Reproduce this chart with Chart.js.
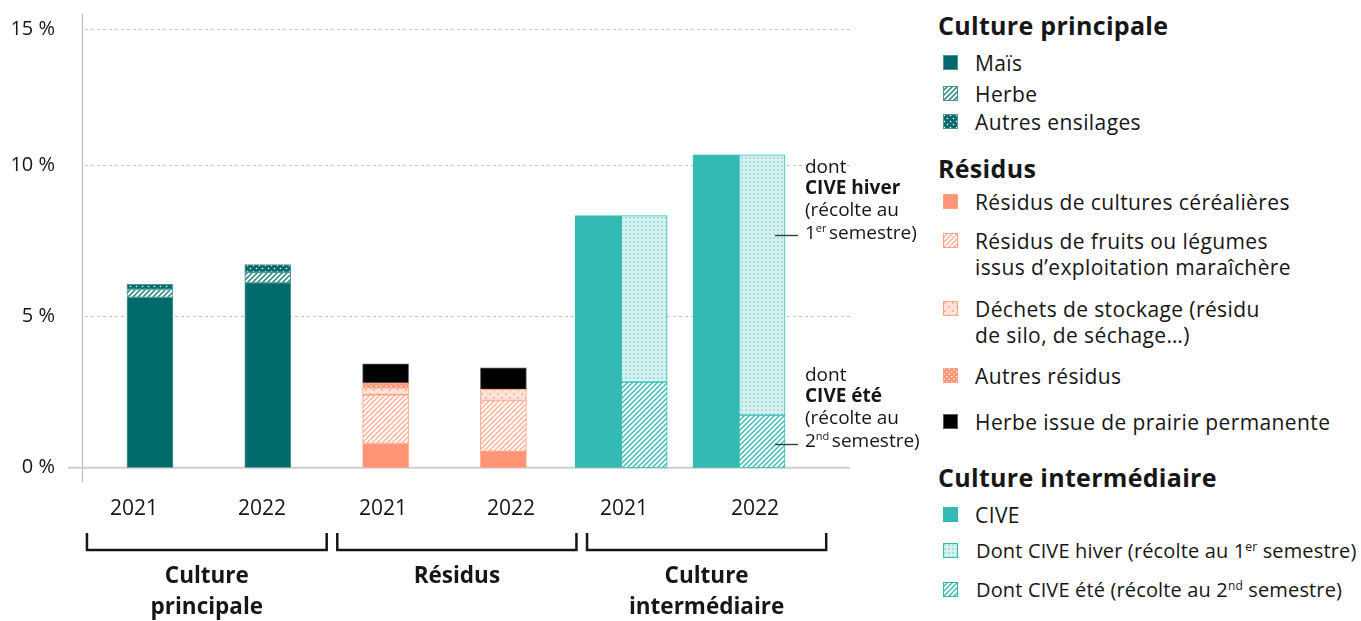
<!DOCTYPE html>
<html><head><meta charset="utf-8">
<script src="https://cdn.jsdelivr.net/npm/chart.js@4.4.0/dist/chart.umd.min.js"></script>
<style>
html,body{margin:0;padding:0;background:#fff;}
body{width:1361px;height:621px;position:relative;overflow:hidden;font-family:"Open Sans",sans-serif;color:#161616;}
#c{position:absolute;left:0;top:0;}
.lh{position:absolute;left:938px;font-weight:700;font-size:25px;letter-spacing:0.3px;line-height:30px;white-space:nowrap;}
.li{position:absolute;left:975px;font-size:21px;letter-spacing:0.4px;line-height:26px;white-space:nowrap;}
.sw{position:absolute;left:943px;width:15px;height:15px;}
sup{font-size:0.6em;vertical-align:0.6em;line-height:0;}
</style></head>
<body>
<canvas id="c" width="930" height="621"></canvas>
<div id="legend"></div>
<script>
// ---------- data ----------
const years = ['2021','2022','2021','2022','2021','2022'];
const groupNames = [['Culture','principale'],['Résidus'],['Culture','intermédiaire']];
const yTickValues = [0, 5, 10, 14.5];
const yTickLabels = ['0 %', '5 %', '10 %', '15 %'];

const mais            = [5.63, 6.11, null, null, null, null];
const herbe           = [0.26, 0.35, null, null, null, null];
const autresEnsilages = [0.17, 0.25, null, null, null, null];
const cereales        = [null, null, 0.80, 0.54, null, null];
const fruitsLegumes   = [null, null, 1.61, 1.68, null, null];
const dechetsStockage = [null, null, 0.23, 0.37, null, null];
const autresResidus   = [null, null, 0.16, null, null, null];
const herbePrairie    = [null, null, 0.63, 0.71, null, null];
const cive            = [null, null, null, null, 8.33, 10.34];
const civeEte         = [null, null, null, null, 2.83, 1.74];
const civeHiver       = [null, null, null, null, 5.50, 8.60];

// layout constants (scale units) for year labels and brackets
const yearLabelPos = [-0.136, 0.951, 1.978, 3.065, 4.024, 5.136];
const brackets = [[-0.535,1.50],[1.59,3.62],[3.71,5.74]];

// ---------- patterns ----------
function tile(size, draw){const c=document.createElement('canvas');c.width=c.height=size;const g=c.getContext('2d');draw(g,size);return c;}
function hatch(fg,bg,s,lw){
  const t=tile(s,(g)=>{g.fillStyle=bg;g.fillRect(0,0,s,s);g.strokeStyle=fg;g.lineWidth=lw;g.beginPath();
    g.moveTo(-1,s+1);g.lineTo(s+1,-1);g.moveTo(-s/2-1,s/2+1);g.lineTo(s/2+1,-s/2-1);g.moveTo(s/2-1,s*1.5+1);g.lineTo(s*1.5+1,s/2-1);g.stroke();});
  return document.createElement('canvas').getContext('2d').createPattern(t,'repeat');
}
function dots(fg,bg,s,r,stagger){
  const t=tile(s,(g)=>{g.fillStyle=bg;g.fillRect(0,0,s,s);g.fillStyle=fg;
    if(stagger){g.fillRect(s/4-r/2,s/4-r/2,r,r);g.fillRect(3*s/4-r/2,3*s/4-r/2,r,r);}
    else{g.fillRect(s/2-r/2,s/2-r/2,r,r);} });
  return document.createElement('canvas').getContext('2d').createPattern(t,'repeat');
}
const TEAL='#006A6B', SALMON='#FF9575', CIVEC='#34BAB5';
const fills = {
  mais: TEAL,
  herbe: hatch('#3E8E8E','#ffffff',5,1.6),
  autresEnsilages: dots('#ffffff',TEAL,6,1.4,true),
  cereales: SALMON,
  fruitsLegumes: hatch('#FFB39B','#ffffff',5,1.5),
  dechetsStockage: dots('#FF9E82','#FFE3DA',8,1.6,true),
  autresResidus: dots('#ffffff',SALMON,5,1.3,true),
  herbePrairie: '#000000',
  cive: CIVEC,
  civeHiver: dots('#7DD0CC','#D6F1EF',4,1.5,false),
  civeEte: hatch(CIVEC,'#ffffff',5,1.4)
};
const borders = {
  mais:'#4F9797', herbe:'#4F9797', autresEnsilages:'#4F9797',
  cereales:'#FFA385', fruitsLegumes:'#FFA385', dechetsStockage:'#FFA385', autresResidus:'#FFA385',
  herbePrairie:'#5a5a5a', cive:CIVEC, civeHiver:CIVEC, civeEte:CIVEC
};

const pts = arr => arr.map((v,i)=>({x:i,y:v}));
function ds(label,key,arr,stack){
  return {label, data:pts(arr), stack, backgroundColor:fills[key], borderColor:borders[key], borderWidth:1, borderSkipped:false};
}
const datasets = [
  ds('Maïs','mais',mais,'cp'),
  ds('Herbe','herbe',herbe,'cp'),
  ds('Autres ensilages','autresEnsilages',autresEnsilages,'cp'),
  ds('Résidus de cultures céréalières','cereales',cereales,'res'),
  ds('Résidus de fruits ou légumes issus d’exploitation maraîchère','fruitsLegumes',fruitsLegumes,'res'),
  ds('Déchets de stockage (résidu de silo, de séchage…)','dechetsStockage',dechetsStockage,'res'),
  ds('Autres résidus','autresResidus',autresResidus,'res'),
  ds('Herbe issue de prairie permanente','herbePrairie',herbePrairie,'res'),
  ds('CIVE','cive',cive,'cive'),
  ds('Dont CIVE été (récolte au 2nd semestre)','civeEte',civeEte,'civeSub'),
  ds('Dont CIVE hiver (récolte au 1er semestre)','civeHiver',civeHiver,'civeSub')
];

// ---------- decorations ----------
const FONT='"Open Sans", sans-serif';
const deco = {
  id:'deco',
  beforeDatasetsDraw(chart){
    const {ctx, chartArea:a, scales:{x,y}} = chart;
    ctx.save();
    ctx.strokeStyle='#c4c4c4'; ctx.lineWidth=1; ctx.setLineDash([3,3]);
    yTickValues.slice(1).forEach(v=>{
      const py=Math.round(y.getPixelForValue(v))+0.5;
      ctx.beginPath(); ctx.moveTo(a.left+3,py); ctx.lineTo(a.right,py); ctx.stroke();
    });
    ctx.setLineDash([]);
    ctx.strokeStyle='#bdbdbd'; ctx.lineWidth=1.2;
    ctx.beginPath(); ctx.moveTo(a.left+0.5,14); ctx.lineTo(a.left+0.5,482); ctx.stroke();
    const p0=y.getPixelForValue(0);
    ctx.strokeStyle='#cfcfcf'; ctx.lineWidth=2;
    ctx.beginPath(); ctx.moveTo(68,p0); ctx.lineTo(a.right,p0); ctx.stroke();
    ctx.restore();
  },
  afterDatasetsDraw(chart){
    const {ctx, scales:{x,y}} = chart;
    ctx.save();
    ctx.strokeStyle='#161616'; ctx.lineWidth=2.5; ctx.lineCap='butt';
    brackets.forEach((b,i)=>{
      const x1=x.getPixelForValue(b[0]), x2=x.getPixelForValue(b[1]);
      ctx.beginPath(); ctx.moveTo(x1,533); ctx.lineTo(x1,550); ctx.lineTo(x2,550); ctx.lineTo(x2,533); ctx.stroke();
      ctx.fillStyle='#161616'; ctx.font='700 22.5px '+FONT; ctx.textAlign='center'; ctx.textBaseline='middle';
      groupNames[i].forEach((t,j)=>ctx.fillText(t,(x1+x2)/2,577+j*31));
    });
    const ax=805;
    ctx.textAlign='left'; ctx.textBaseline='middle'; ctx.fillStyle='#161616';
    function block(y0, boldTxt, sup){
      ctx.font='19px '+FONT; ctx.fillText('dont',ax,y0);
      ctx.font='700 19px '+FONT; ctx.fillText(boldTxt,ax,y0+21);
      ctx.font='19px '+FONT; ctx.fillText('(récolte au',ax,y0+43);
      let xx=ax; const yl=y0+66;
      ctx.fillText(sup[0],xx,yl); xx+=ctx.measureText(sup[0]).width;
      ctx.font='11px '+FONT; ctx.fillText(sup[1],xx,yl-5); xx+=ctx.measureText(sup[1]).width+2.5;
      ctx.font='19px '+FONT; ctx.fillText('semestre)',xx,yl);
    }
    block(168,'CIVE hiver',['1','er']);
    block(376,'CIVE été',['2','nd']);
    ctx.strokeStyle='#333'; ctx.lineWidth=1.3;
    [235,444].forEach(py=>{ctx.beginPath();ctx.moveTo(775,py+0.5);ctx.lineTo(798,py+0.5);ctx.stroke();});
    ctx.restore();
  }
};

new Chart(document.getElementById('c'),{
  type:'bar',
  data:{datasets},
  options:{
    responsive:false, animation:false, events:[],
    layout:{padding:{left:0,right:80,top:29,bottom:0}},
    plugins:{legend:{display:false},tooltip:{enabled:false}},
    datasets:{bar:{barThickness:46, skipNull:true, grouped:true}},
    scales:{
      x:{type:'linear', offset:false, min:-0.577, max:5.942,
        grid:{display:false,drawTicks:false}, border:{display:false},
        afterBuildTicks:s=>{s.ticks=yearLabelPos.map(v=>({value:v}));},
        afterFit:s=>{s.height=153.3; s.paddingLeft=0; s.paddingRight=0;},
        ticks:{autoSkip:false, maxRotation:0, padding:29, color:'#161616', font:{family:FONT,size:21},
          callback:(v,i)=>years[i]}},
      y:{type:'linear', min:0, max:14.5,
        grid:{display:false,drawTicks:false}, border:{display:false},
        afterBuildTicks:s=>{s.ticks=yTickValues.map(v=>({value:v}));},
        afterFit:s=>{s.width=82; s.paddingTop=0; s.paddingBottom=0;},
        ticks:{padding:27, color:'#161616', font:{family:FONT,size:20},
          callback:(v,i)=>yTickLabels[i]}}
    }
  },
  plugins:[deco]
});

// ---------- legend (HTML) ----------
const legendRows = [
  {h:'Culture principale', c:25},
  {k:'mais', t:'Maïs', c:63},
  {k:'herbe', t:'Herbe', c:94},
  {k:'autresEnsilages', t:'Autres ensilages', c:122},
  {h:'Résidus', c:168},
  {k:'cereales', t:'Résidus de cultures céréalières', c:202},
  {k:'fruitsLegumes', t:'Résidus de fruits ou légumes<br>issus d’exploitation maraîchère', c:241},
  {k:'dechetsStockage', t:'Déchets de stockage (résidu<br>de silo, de séchage…)', c:309},
  {k:'autresResidus', t:'Autres résidus', c:376},
  {k:'herbePrairie', t:'Herbe issue de prairie permanente', c:422},
  {h:'Culture intermédiaire', c:477},
  {k:'cive', t:'CIVE', c:515},
  {k:'civeHiver', t:'Dont CIVE hiver (récolte au 1<sup>er</sup> semestre)', c:551, small:true},
  {k:'civeEte', t:'Dont CIVE été (récolte au 2<sup>nd</sup> semestre)', c:590, small:true}
];
const L=document.getElementById('legend');
legendRows.forEach(r=>{
  if(r.h){const d=document.createElement('div');d.className='lh';d.style.top=(r.c-15)+'px';d.textContent=r.h;L.appendChild(d);return;}
  const sw=document.createElement('canvas');sw.className='sw';sw.width=15;sw.height=15;sw.style.top=(r.c-8)+'px';
  const g=sw.getContext('2d');g.fillStyle=fills[r.k];g.fillRect(0,0,15,15);g.strokeStyle=borders[r.k];g.lineWidth=1;g.strokeRect(0.5,0.5,14,14);
  L.appendChild(sw);
  const d=document.createElement('div');d.className='li';d.style.top=(r.c-13)+'px';d.innerHTML=r.t;
  if(r.small){d.style.fontSize='20px';d.style.letterSpacing='0.15px';d.style.left='976px';}
  L.appendChild(d);
});
</script>
</body></html>
